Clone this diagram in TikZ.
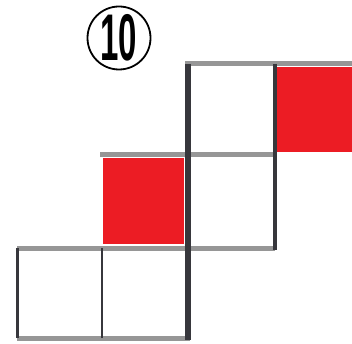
\documentclass[tikz,border=0pt]{standalone}
\usepackage{graphicx}
\usepackage{fontspec}
\setmainfont{Liberation Sans}
\definecolor{cellred}{RGB}{236,28,36}
\definecolor{rulegray}{RGB}{150,150,150}
\definecolor{ruledark}{RGB}{55,55,60}

\begin{document}
\begin{tikzpicture}[
  x=1pt, y=-1pt,
  redcell/.style={fill=cellred, draw=none},
  hline/.style={draw=rulegray, line width=5pt},
  vline/.style={draw=ruledark, line width=3pt},
  thickvline/.style={vline, line width=6pt},
  numlabel/.style={circle, draw, line width=1.8pt, minimum size=63pt, inner sep=0pt,
                   font=\fontsize{66}{66}\selectfont},
]
\useasboundingbox (0,0) rectangle (352,344);
% filled cells
\fill[redcell] (277,67) rectangle (352,152);
\fill[redcell] (103,158) rectangle (184,244);
% horizontal rules
\draw[hline] (185,64) -- (352,64);
\draw[hline] (100,155) -- (275,155);
\draw[hline] (17,248) -- (275,248);
\draw[hline] (17,338) -- (190,338);
% vertical rules
\draw[vline] (17,248) -- (17,338);
\draw[vline, line width=2.5pt] (102,248) -- (102,338);
\draw[thickvline] (188,64) -- (188,340);
\draw[vline, line width=3.5pt] (275,64) -- (275,250);
% label
\node[numlabel] (num) at (119,38) {\raisebox{-1pt}{\scalebox{0.5}[1]{\bfseries 10}}};
\end{tikzpicture}
\end{document}
